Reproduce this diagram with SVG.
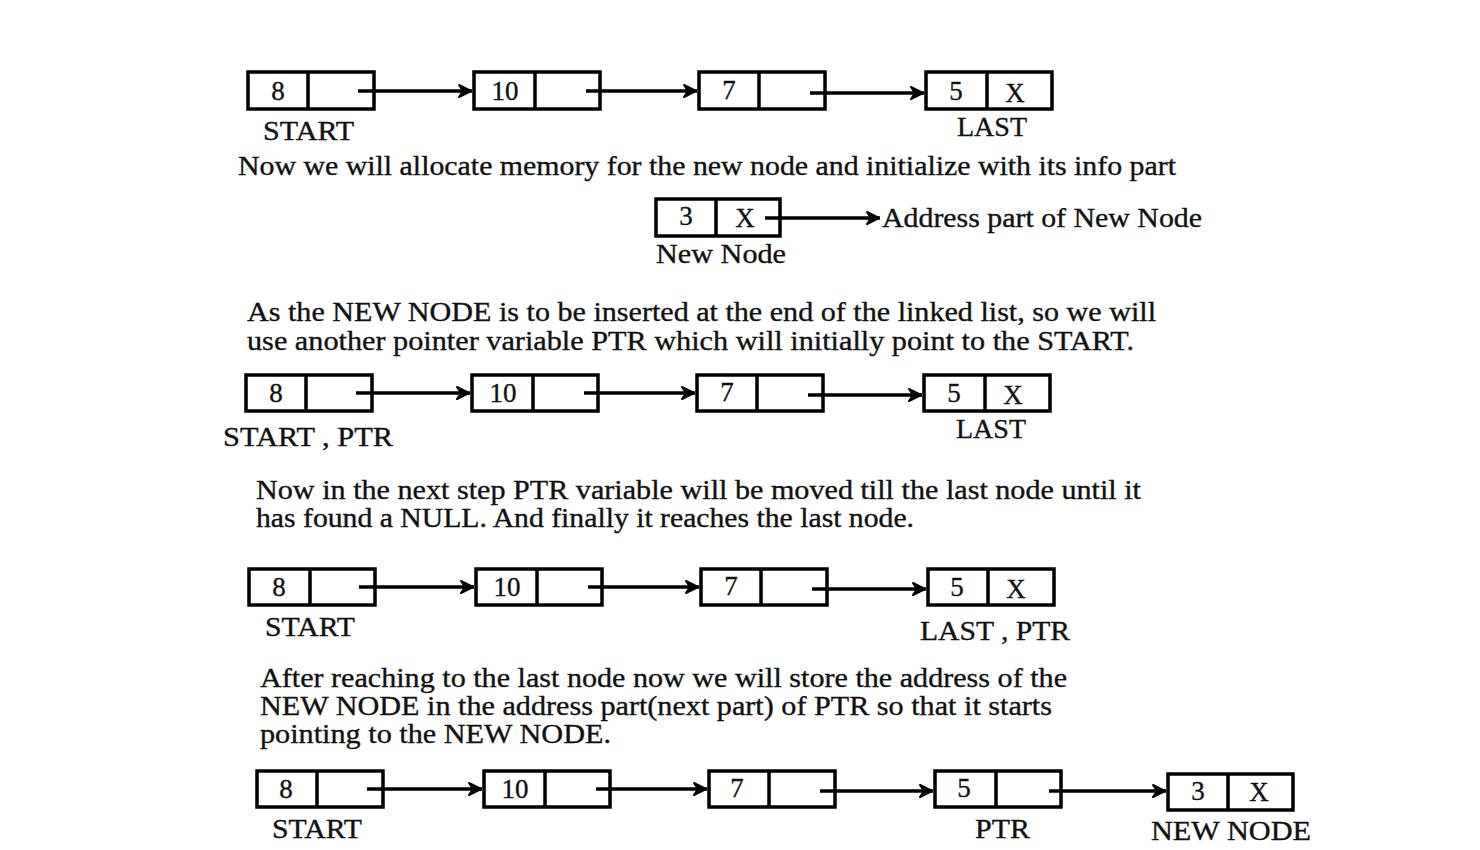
<svg xmlns="http://www.w3.org/2000/svg" width="1480" height="850" viewBox="0 0 1480 850">
<defs>
<marker id="ah" viewBox="0 0 16 16" refX="15" refY="8" markerWidth="16" markerHeight="16" markerUnits="userSpaceOnUse" orient="auto">
<path d="M2,2 L14,8 L2,14 L6,8 Z" fill="#000" stroke="#000" stroke-width="2" stroke-linejoin="round"/>
</marker>
<style>
text{font-family:"Liberation Serif","Times New Roman",serif;fill:#111;stroke:#111;stroke-width:0.35}
.box{fill:#fff;stroke:#000;stroke-width:3.5}
.div{stroke:#000;stroke-width:3.5}
.v{font-size:27px;text-anchor:middle}
.lbl{font-size:27px}
.p{font-size:27px}
.c{stroke:#000;stroke-width:3.5;fill:none;marker-end:url(#ah)}
</style>
</defs>
<rect width="1480" height="850" fill="#fff" stroke="none"/>

<!-- Row 1 -->
<g id="r1n1"><rect class="box" x="248" y="72" width="126" height="37"/><line class="div" x1="308" y1="72" x2="308" y2="109"/><text class="v" x="278" y="100">8</text></g>
<g id="r1n2"><rect class="box" x="474" y="72" width="126" height="37"/><line class="div" x1="535" y1="72" x2="535" y2="109"/><text class="v" x="505" y="100">10</text></g>
<g id="r1n3"><rect class="box" x="699" y="72" width="126" height="37"/><line class="div" x1="759" y1="72" x2="759" y2="109"/><text class="v" x="729" y="99">7</text></g>
<g id="r1n4"><rect class="box" x="926" y="72" width="126" height="37"/><line class="div" x1="987" y1="72" x2="987" y2="109"/><text class="v" x="956" y="100">5</text><text class="v" x="1015" y="102">X</text></g>
<text class="lbl" x="263" y="140" textLength="91" lengthAdjust="spacingAndGlyphs">START</text>
<text class="lbl" x="957" y="136" textLength="70" lengthAdjust="spacingAndGlyphs">LAST</text>

<text class="p" x="238" y="175" textLength="938" lengthAdjust="spacingAndGlyphs">Now we will allocate memory for the new node and  initialize with its info part</text>

<g id="newnode"><rect class="box" x="656" y="199" width="124" height="37"/><line class="div" x1="716" y1="199" x2="716" y2="236"/><text class="v" x="686" y="225">3</text><text class="v" x="745" y="227">X</text></g>
<text class="p" x="882" y="227" textLength="320" lengthAdjust="spacingAndGlyphs">Address part of New Node</text>
<text class="lbl" x="656" y="263" textLength="130" lengthAdjust="spacingAndGlyphs">New Node</text>

<text class="p" x="247" y="321" textLength="909" lengthAdjust="spacingAndGlyphs">As the NEW NODE is to be inserted at the end of the linked list, so we will</text>
<text class="p" x="247" y="350" textLength="887" lengthAdjust="spacingAndGlyphs">use another pointer variable PTR which will initially point to the START.</text>

<!-- Row 2 -->
<g id="r2n1"><rect class="box" x="246" y="375" width="126" height="36"/><line class="div" x1="306" y1="375" x2="306" y2="411"/><text class="v" x="276" y="402">8</text></g>
<g id="r2n2"><rect class="box" x="472" y="375" width="126" height="36"/><line class="div" x1="533" y1="375" x2="533" y2="411"/><text class="v" x="503" y="402">10</text></g>
<g id="r2n3"><rect class="box" x="697" y="375" width="126" height="36"/><line class="div" x1="757" y1="375" x2="757" y2="411"/><text class="v" x="727" y="401">7</text></g>
<g id="r2n4"><rect class="box" x="924" y="375" width="126" height="36"/><line class="div" x1="985" y1="375" x2="985" y2="411"/><text class="v" x="954" y="402">5</text><text class="v" x="1013" y="404">X</text></g>
<text class="lbl" x="223" y="446" textLength="170" lengthAdjust="spacingAndGlyphs">START , PTR</text>
<text class="lbl" x="956" y="438" textLength="70" lengthAdjust="spacingAndGlyphs">LAST</text>

<text class="p" x="256" y="499" textLength="885" lengthAdjust="spacingAndGlyphs">Now in the next step PTR  variable will be moved till the last node until it</text>
<text class="p" x="256" y="527" textLength="658" lengthAdjust="spacingAndGlyphs">has found a NULL. And finally it reaches the last node.</text>

<!-- Row 3 -->
<g id="r3n1"><rect class="box" x="249" y="569" width="126" height="36"/><line class="div" x1="310" y1="569" x2="310" y2="605"/><text class="v" x="279" y="596">8</text></g>
<g id="r3n2"><rect class="box" x="476" y="569" width="126" height="36"/><line class="div" x1="537" y1="569" x2="537" y2="605"/><text class="v" x="507" y="596">10</text></g>
<g id="r3n3"><rect class="box" x="701" y="569" width="126" height="36"/><line class="div" x1="761" y1="569" x2="761" y2="605"/><text class="v" x="731" y="595">7</text></g>
<g id="r3n4"><rect class="box" x="928" y="569" width="126" height="36"/><line class="div" x1="988" y1="569" x2="988" y2="605"/><text class="v" x="957" y="596">5</text><text class="v" x="1016" y="598">X</text></g>
<text class="lbl" x="265" y="636" textLength="90" lengthAdjust="spacingAndGlyphs">START</text>
<text class="lbl" x="920" y="640" textLength="150" lengthAdjust="spacingAndGlyphs">LAST , PTR</text>

<text class="p" x="260" y="687" textLength="807" lengthAdjust="spacingAndGlyphs">After reaching to the last node now we will store the address of the</text>
<text class="p" x="260" y="715" textLength="792" lengthAdjust="spacingAndGlyphs">NEW NODE in the address part(next part) of PTR so that it starts</text>
<text class="p" x="260" y="743" textLength="351" lengthAdjust="spacingAndGlyphs">pointing to the NEW NODE.</text>

<!-- Row 4 -->
<g id="r4n1"><rect class="box" x="257" y="771" width="126" height="36"/><line class="div" x1="317" y1="771" x2="317" y2="807"/><text class="v" x="286" y="798">8</text></g>
<g id="r4n2"><rect class="box" x="484" y="771" width="126" height="36"/><line class="div" x1="545" y1="771" x2="545" y2="807"/><text class="v" x="515" y="798">10</text></g>
<g id="r4n3"><rect class="box" x="709" y="771" width="126" height="36"/><line class="div" x1="769" y1="771" x2="769" y2="807"/><text class="v" x="737" y="797">7</text></g>
<g id="r4n4"><rect class="box" x="935" y="771" width="126" height="36"/><line class="div" x1="996" y1="771" x2="996" y2="807"/><text class="v" x="964" y="797">5</text></g>
<g id="r4n5"><rect class="box" x="1168" y="774" width="125" height="36"/><line class="div" x1="1228" y1="774" x2="1228" y2="810"/><text class="v" x="1198" y="800">3</text><text class="v" x="1259" y="801">X</text></g>
<text class="lbl" x="272" y="838" textLength="90" lengthAdjust="spacingAndGlyphs">START</text>
<text class="lbl" x="975" y="838" textLength="55" lengthAdjust="spacingAndGlyphs">PTR</text>
<text class="lbl" x="1151" y="840" textLength="160" lengthAdjust="spacingAndGlyphs">NEW NODE</text>

<g id="connectors">
<line class="c" x1="358" y1="91" x2="472" y2="91"/>
<line class="c" x1="586" y1="91" x2="697" y2="91"/>
<line class="c" x1="810" y1="93" x2="924" y2="93"/>
<line class="c" x1="765" y1="218" x2="880" y2="218"/>
<line class="c" x1="356" y1="393" x2="470" y2="393"/>
<line class="c" x1="584" y1="393" x2="695" y2="393"/>
<line class="c" x1="808" y1="395" x2="922" y2="395"/>
<line class="c" x1="359" y1="587" x2="474" y2="587"/>
<line class="c" x1="588" y1="587" x2="699" y2="587"/>
<line class="c" x1="812" y1="589" x2="926" y2="589"/>
<line class="c" x1="367" y1="789" x2="482" y2="789"/>
<line class="c" x1="596" y1="789" x2="707" y2="789"/>
<line class="c" x1="820" y1="791" x2="933" y2="791"/>
<line class="c" x1="1049" y1="791" x2="1166" y2="791"/>
</g>
</svg>
